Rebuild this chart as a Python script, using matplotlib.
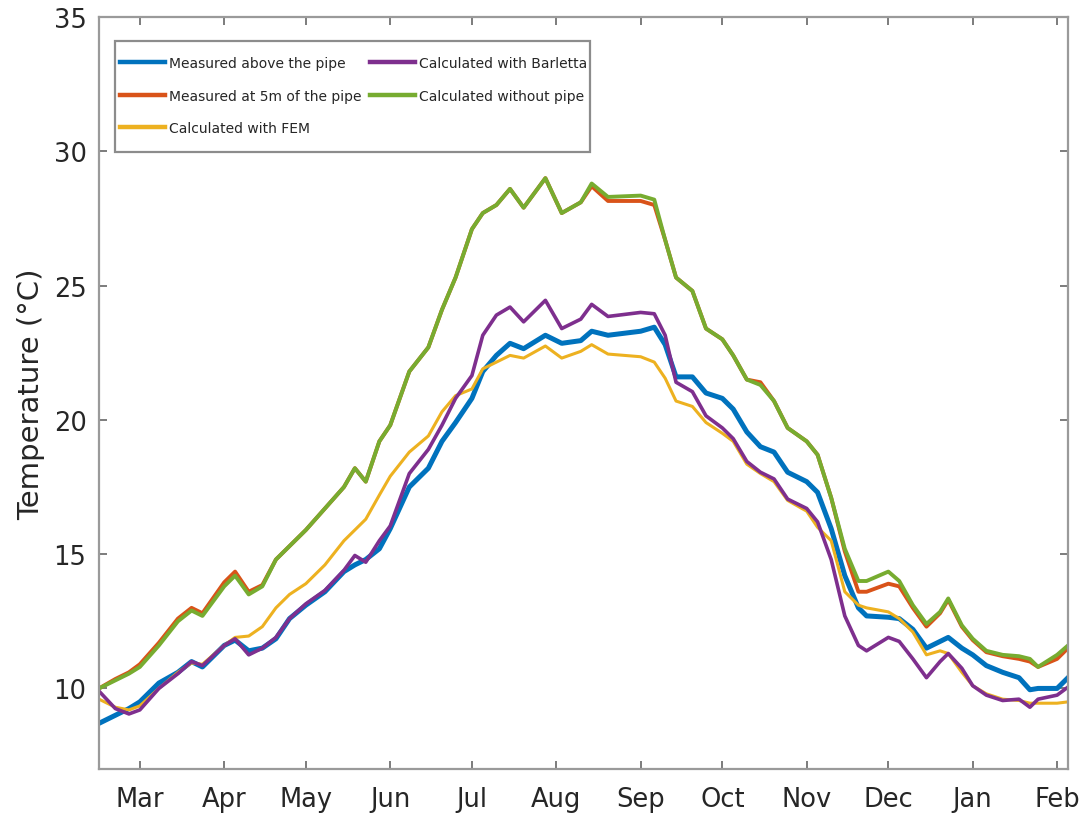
import numpy as np
import matplotlib
matplotlib.use('Agg')
import matplotlib.pyplot as plt
import matplotlib.dates as mdates
from matplotlib import font_manager
from matplotlib.patches import Rectangle

# sample dates (Feb 2015 -> Feb 2016)
dates = np.array([
    '2015-02-14', '2015-02-20', '2015-02-25', '2015-03-01', '2015-03-08', '2015-03-15',
    '2015-03-20', '2015-03-24', '2015-04-01', '2015-04-05', '2015-04-10', '2015-04-15',
    '2015-04-20', '2015-04-25', '2015-05-01', '2015-05-08', '2015-05-15', '2015-05-19',
    '2015-05-23', '2015-05-28', '2015-06-01', '2015-06-08', '2015-06-15', '2015-06-20',
    '2015-06-25', '2015-07-01', '2015-07-05', '2015-07-10', '2015-07-15', '2015-07-20',
    '2015-07-28', '2015-08-03', '2015-08-10', '2015-08-14', '2015-08-20', '2015-09-01',
    '2015-09-06', '2015-09-10', '2015-09-14', '2015-09-20', '2015-09-25', '2015-10-01',
    '2015-10-05', '2015-10-10', '2015-10-15', '2015-10-20', '2015-10-25', '2015-11-01',
    '2015-11-05', '2015-11-10', '2015-11-15', '2015-11-20', '2015-11-23', '2015-12-01',
    '2015-12-05', '2015-12-10', '2015-12-15', '2015-12-20', '2015-12-23', '2015-12-28',
    '2016-01-01', '2016-01-06', '2016-01-12', '2016-01-18', '2016-01-22', '2016-01-25',
    '2016-02-01', '2016-02-05'], dtype='datetime64[D]')

measured_above = [8.7, 9.0, 9.25, 9.5, 10.2, 10.6, 11.0, 10.8, 11.6, 11.8, 11.4, 11.5,
                  11.85, 12.6, 13.1, 13.6, 14.35, 14.6, 14.8, 15.2, 15.95, 17.5, 18.2, 19.2,
                  19.9, 20.8, 21.8, 22.4, 22.85, 22.65, 23.15, 22.85, 22.95, 23.3, 23.15, 23.3,
                  23.45, 22.8, 21.6, 21.6, 21.0, 20.8, 20.4, 19.55, 19.0, 18.8, 18.05, 17.7,
                  17.3, 15.95, 14.2, 13.0, 12.7, 12.65, 12.6, 12.2, 11.5, 11.75, 11.9, 11.5,
                  11.25, 10.85, 10.6, 10.4, 9.95, 10.0, 10.0, 10.4]

measured_5m = [10.0, 10.35, 10.6, 10.9, 11.7, 12.6, 13.0, 12.8, 13.95, 14.35, 13.6, 13.85,
               14.8, 15.3, 15.9, 16.7, 17.5, 18.2, 17.7, 19.2, 19.8, 21.8, 22.7, 24.1,
               25.3, 27.1, 27.7, 28.0, 28.6, 27.9, 29.0, 27.7, 28.1, 28.7, 28.15, 28.15,
               28.0, 26.7, 25.3, 24.8, 23.4, 23.0, 22.4, 21.5, 21.4, 20.7, 19.7, 19.2,
               18.7, 17.1, 15.1, 13.6, 13.6, 13.9, 13.8, 13.0, 12.3, 12.8, 13.3, 12.3,
               11.8, 11.35, 11.2, 11.1, 11.0, 10.8, 11.1, 11.5]

calc_fem = [9.6, 9.3, 9.2, 9.35, 10.0, 10.6, 10.95, 10.9, 11.6, 11.9, 11.95, 12.3,
            13.0, 13.5, 13.9, 14.6, 15.5, 15.9, 16.3, 17.2, 17.9, 18.8, 19.4, 20.3,
            20.9, 21.15, 21.9, 22.15, 22.4, 22.3, 22.75, 22.3, 22.55, 22.8, 22.45, 22.35,
            22.15, 21.55, 20.7, 20.5, 19.9, 19.5, 19.2, 18.35, 18.0, 17.7, 17.0, 16.6,
            16.0, 15.5, 13.6, 13.1, 13.0, 12.85, 12.6, 12.1, 11.25, 11.4, 11.3, 10.6,
            10.1, 9.8, 9.6, 9.55, 9.45, 9.45, 9.45, 9.5]

calc_barletta = [9.9, 9.25, 9.05, 9.2, 10.0, 10.55, 11.0, 10.85, 11.6, 11.85, 11.25, 11.5,
                 11.9, 12.6, 13.15, 13.65, 14.4, 14.95, 14.7, 15.5, 16.05, 18.0, 18.9, 19.8,
                 20.8, 21.65, 23.15, 23.9, 24.2, 23.65, 24.45, 23.4, 23.75, 24.3, 23.85, 24.0,
                 23.95, 23.15, 21.4, 21.05, 20.15, 19.7, 19.3, 18.45, 18.05, 17.8, 17.05, 16.7,
                 16.2, 14.8, 12.7, 11.6, 11.4, 11.9, 11.75, 11.1, 10.4, 11.0, 11.3, 10.75,
                 10.1, 9.75, 9.55, 9.6, 9.3, 9.6, 9.75, 10.05]

calc_no_pipe = [10.0, 10.3, 10.55, 10.8, 11.6, 12.5, 12.9, 12.7, 13.8, 14.2, 13.5, 13.8,
                14.8, 15.3, 15.9, 16.7, 17.5, 18.2, 17.7, 19.2, 19.8, 21.8, 22.7, 24.1,
                25.3, 27.1, 27.7, 28.0, 28.6, 27.9, 29.0, 27.7, 28.1, 28.8, 28.3, 28.35,
                28.2, 26.7, 25.3, 24.8, 23.4, 23.0, 22.4, 21.5, 21.3, 20.7, 19.7, 19.2,
                18.7, 17.1, 15.2, 14.0, 14.0, 14.35, 14.0, 13.1, 12.4, 12.85, 13.35, 12.35,
                11.85, 11.4, 11.25, 11.2, 11.1, 10.8, 11.25, 11.6]

labels = ['Measured above the pipe', 'Measured at 5m of the pipe', 'Calculated with FEM',
          'Calculated with Barletta', 'Calculated without pipe']
colors = ['#0072BD', '#D95319', '#EDB120', '#7E2F8E', '#77AC30']
widths = [3.6, 2.8, 2.2, 2.6, 2.8]

# narrow font for the legend if there is one
legend_font = None
for fam in ['Liberation Sans Narrow', 'DejaVu Sans Condensed']:
    try:
        font_manager.findfont(fam, fallback_to_default=False)
        legend_font = fam
        break
    except Exception:
        pass
if legend_font == 'Liberation Sans Narrow':
    legend_prop = {'family': legend_font, 'size': 13}
elif legend_font == 'DejaVu Sans Condensed':
    legend_prop = {'family': legend_font, 'size': 10.6}
else:
    legend_prop = {'family': 'DejaVu Sans', 'size': 10.0}
fs_px = legend_prop['size'] * 100 / 72

axis_gray = '#9a9a9a'
text_gray = '#262626'

fig = plt.figure(figsize=(10.86, 8.2), dpi=100)
ax = fig.add_axes([99 / 1086, 50 / 820, 969 / 1086, 752 / 820])

series = [measured_above, measured_5m, calc_fem, calc_barletta, calc_no_pipe]
for vals, lab, col, lw in zip(series, labels, colors, widths):
    ax.plot(dates, vals, color=col, lw=lw, label=lab)

ax.set_xlim(dates[0], dates[-1])
ax.set_ylim(7, 35)
ax.set_yticks([10, 15, 20, 25, 30, 35])
ax.xaxis.set_major_locator(mdates.MonthLocator())
ax.xaxis.set_major_formatter(mdates.DateFormatter('%b'))

ax.tick_params(direction='in', length=6, width=1.2, color='#666666', labelsize=18.5,
               labelcolor=text_gray, pad=9, top=True, right=True)
ax.tick_params(axis='x', pad=12)
for sp in ax.spines.values():
    sp.set_color(axis_gray)
    sp.set_linewidth(1.6)

ax.set_ylabel('Temperature (°C)', fontsize=21, color=text_gray, labelpad=6)

# legend box (MATLAB style: wider vertical padding than horizontal)
box = Rectangle((0.0165, 0.8205), 0.4902, 0.1475, transform=ax.transAxes,
                facecolor='white', edgecolor='#8c8c8c', lw=1.6, zorder=4)
ax.add_patch(box)
leg = ax.legend(ncol=2, loc='upper left', bbox_to_anchor=(0.0165, 0.968 - 10 / 752),
                borderaxespad=0, prop=legend_prop, frameon=False,
                handlelength=45 / fs_px, handletextpad=4 / fs_px,
                columnspacing=9 / fs_px, labelspacing=18.5 / fs_px, borderpad=5 / fs_px)
leg.set_zorder(5)
for t in leg.get_texts():
    t.set_color(text_gray)
for h in leg.get_lines():
    h.set_linewidth(3.2)

fig.savefig('out.png', dpi=100)
